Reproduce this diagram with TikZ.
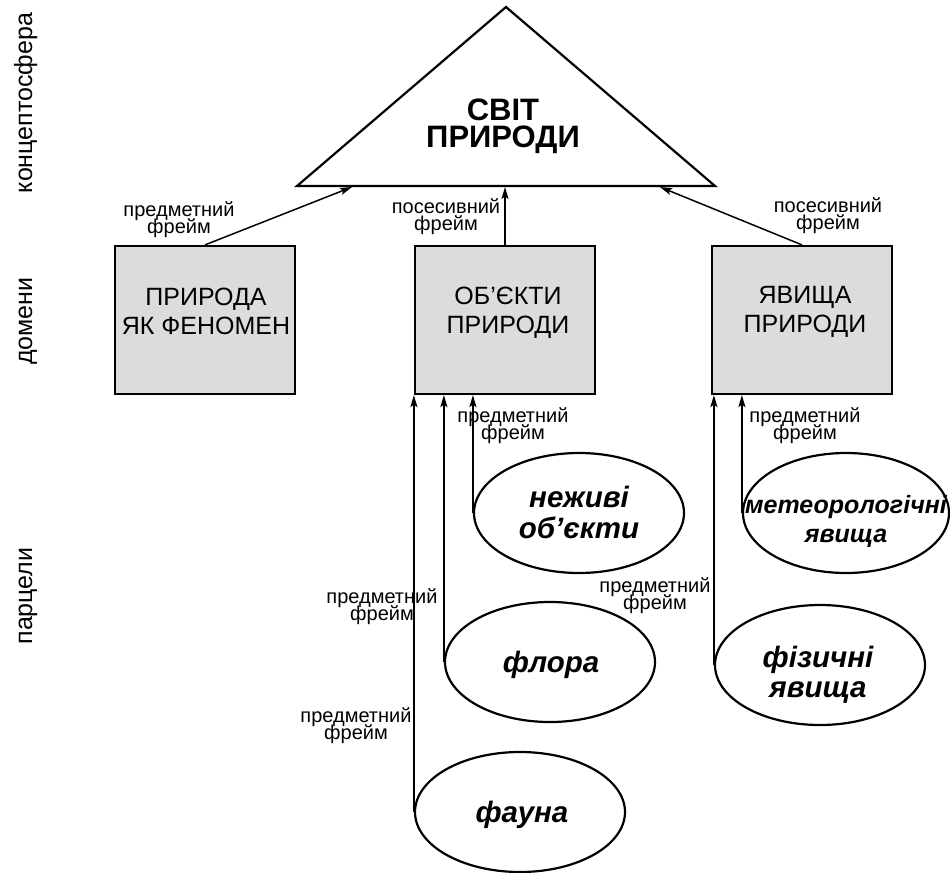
\documentclass[tikz,border=0pt]{standalone}
\usepackage{fontspec}
\setmainfont{Liberation Sans}
\usetikzlibrary{arrows.meta,shapes.geometric}
\definecolor{boxgray}{RGB}{220,220,220}
\lineskiplimit=-100pt
\newcommand\toph[1]{\rule{0pt}{#1}}
\tikzset{
 box/.style={draw, line width=2.2bp, fill=boxgray, rectangle, minimum width=180bp, minimum height=148bp, inner sep=0},
 ell/.style={draw, line width=2.2bp, ellipse, minimum width=210bp, minimum height=120bp, inner sep=0},
 arr/.style={line width=1.5bp, -{Stealth[length=12bp,width=7bp,inset=2.5bp]}},
 lbl/.style={anchor=north, inner sep=0, align=center, font=\fontsize{20bp}{17.5bp}\selectfont},
 boxtxt/.style={anchor=north, inner sep=0, align=center, font=\fontsize{25bp}{29bp}\selectfont},
 bigtxt/.style={anchor=north, inner sep=0, align=center, font=\fontsize{31bp}{27bp}\selectfont\bfseries},
 eltxt/.style={anchor=north, inner sep=0, align=center, font=\fontsize{29.5bp}{30bp}\selectfont\bfseries\itshape},
 side/.style={rotate=90, anchor=base, inner sep=0, font=\fontsize{25bp}{25bp}\selectfont},
}
\begin{document}
\begin{tikzpicture}[x=1bp,y=-1bp]
\useasboundingbox (0,0) rectangle (950,873);
% side labels
\node[side] (s1) at (32,103) {концептосфера};
\node[side] (s2) at (32,321) {домени};
\node[side] (s3) at (32,596) {парцели};
% triangle
\draw[line width=2.2bp, line join=miter] (506,7) -- (715,186) -- (297,186) -- cycle;
\coordinate (tA) at (352,187);
\coordinate (tB) at (506,187);
\coordinate (tC) at (660,187);
\node[bigtxt] (title) at (503,95) {\toph{25bp}СВІТ\\ПРИРОДИ};
% domain boxes
\node[box] (b1) at (205,320) {};
\node[box] (b2) at (505,320) {};
\node[box] (b3) at (802,320) {};
\node[boxtxt] (bt1) at (206,284) {\toph{21bp}ПРИРОДА\\ЯК ФЕНОМЕН};
\node[boxtxt] (bt2) at (508,283) {\toph{21bp}ОБ’ЄКТИ\\ПРИРОДИ};
\node[boxtxt] (bt3) at (805,282) {\toph{21bp}ЯВИЩА\\ПРИРОДИ};
% parcel ellipses
\node[ell] (e1) at (579,513) {};
\node[ell] (e2) at (550,662) {};
\node[ell] (e3) at (520,812) {};
\node[ell, minimum width=206bp] (e4) at (846,513) {};
\node[ell] (e5) at (820,665) {};
\node[eltxt, font=\fontsize{29.5bp}{31bp}\selectfont\bfseries\itshape] (et1) at (579,483) {\toph{24bp}неживі\\об’єкти};
\node[eltxt] (et2) at (551,648) {\toph{24bp}флора};
\node[eltxt] (et3) at (522,798) {\toph{24bp}фауна};
\node[eltxt, font=\fontsize{25bp}{29bp}\selectfont\bfseries\itshape] (et4) at (846,493) {\toph{20bp}метеорологічні\\явища};
\node[eltxt] (et5) at (818,643) {\toph{24bp}фізичні\\явища};
% arrows to triangle
\draw[arr] (b1.north) -- (tA);
\draw[arr] (b2.north) -- (b2.north |- tB);
\draw[arr] (b3.north) -- (tC);
% arrows from parcels to domains
\draw[arr] (e1.west) -- (e1.west |- b2.south);
\draw[arr] (e2.west) -- (e2.west |- b2.south);
\draw[arr] (e3.west) -- (e3.west |- b2.south);
\draw[arr] (e4.west) -- (e4.west |- b3.south);
\draw[arr] (e5.west) -- (e5.west |- b3.south);
% frame labels
\node[lbl] (l1) at (179,200) {\toph{16bp}предметний\\фрейм};
\node[lbl] (l2) at (446,197) {\toph{16bp}посесивний\\фрейм};
\node[lbl] (l3) at (828,196) {\toph{16bp}посесивний\\фрейм};
\node[lbl] (l4) at (513,406) {\toph{16bp}предметний\\фрейм};
\node[lbl] (l5) at (805,406) {\toph{16bp}предметний\\фрейм};
\node[lbl] (l6) at (655,576) {\toph{16bp}предметний\\фрейм};
\node[lbl] (l7) at (382,587) {\toph{16bp}предметний\\фрейм};
\node[lbl] (l8) at (356,706) {\toph{16bp}предметний\\фрейм};
\end{tikzpicture}
\end{document}
